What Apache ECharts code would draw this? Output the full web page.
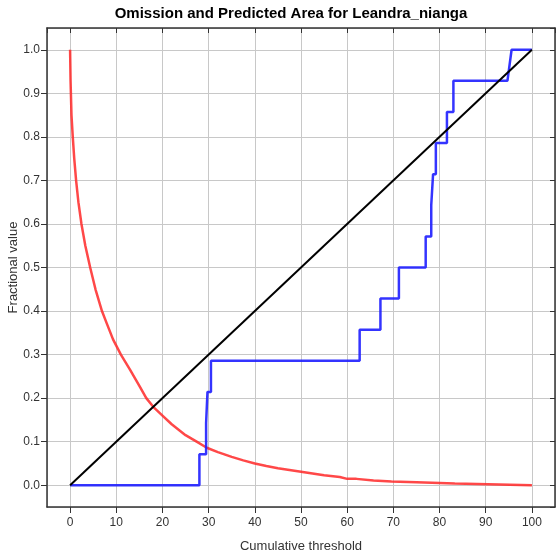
<!DOCTYPE html>
<html>
<head>
<meta charset="utf-8">
<script src="https://cdn.jsdelivr.net/npm/echarts@6/dist/echarts.min.js"></script>
<style>
html,body{margin:0;padding:0;background:#fff;}
#chart{width:556px;height:558px;}
</style>
</head>
<body>
<div id="chart"></div>
<script>
var titleText = "Omission and Predicted Area for Leandra_nianga";
var xAxisName = "Cumulative threshold";
var yAxisName = "Fractional value";

// Fraction of predicted area (red)
var areaX = [0, 0.1, 0.15, 0.3, 0.58, 0.9, 1.3, 1.8, 2.46, 3.3, 4.35, 5.5, 6.9, 8.0, 9.3, 11.0, 13.0, 15.0, 16.5, 18.0, 20.0, 22.0, 25.0, 27.4, 29.6, 32.0, 35.0, 37.5, 40.0, 42.5, 45.0, 50.0, 55.0, 58.4, 60.0, 62.0, 62.1, 65.7, 65.8, 69.6, 69.7, 75.0, 75.1, 83.3, 83.4, 100];
var areaY = [1.0, 0.93, 0.91, 0.85, 0.8, 0.75, 0.7, 0.65, 0.6, 0.55, 0.5, 0.45, 0.4, 0.37, 0.335, 0.3, 0.265, 0.228, 0.2, 0.18, 0.16, 0.14, 0.115, 0.1, 0.086, 0.076, 0.065, 0.057, 0.05, 0.044, 0.039, 0.031, 0.023, 0.019, 0.0146, 0.0146, 0.0108, 0.0108, 0.0085, 0.0085, 0.0069, 0.0069, 0.0038, 0.0038, 0.0, 0.0];

// Omission on training samples (blue)
var omitX = [0, 28.0, 28.0, 29.45, 29.45, 29.75, 29.75, 30.5, 30.5, 62.7, 62.7, 67.2, 67.2, 71.2, 71.2, 77.0, 77.0, 78.2, 78.2, 78.6, 78.6, 79.2, 79.2, 81.6, 81.6, 83.0, 83.0, 94.7, 95.6, 100];
var omitY = [0, 0, 0.0714, 0.0714, 0.1429, 0.1429, 0.2143, 0.2143, 0.2857, 0.2857, 0.3571, 0.3571, 0.4286, 0.4286, 0.5, 0.5, 0.5714, 0.5714, 0.6429, 0.6429, 0.7143, 0.7143, 0.7857, 0.7857, 0.8571, 0.8571, 0.9286, 0.9286, 1.0, 1.0];

// Predicted omission (black)
var predX = [0, 100];
var predY = [0, 1];

function pairs(xs, ys){ return xs.map(function(x,i){ return [x, ys[i]]; }); }

var chart = echarts.init(document.getElementById('chart'), null, {renderer:'canvas'});
var font = "'Liberation Sans', Arial, sans-serif";
var axisLineStyle = {color:'#333', width:1.5};
var option = {
  animation:false,
  backgroundColor:'#fff',
  title:{text:titleText, left:286, top:1, textAlign:'center',
    textStyle:{fontFamily:font, fontSize:15, fontWeight:'bold', color:'#000'}},
  grid:{left:47, right:1, top:28, bottom:51, containLabel:false, outerBoundsMode:'none'},
  xAxis:[{
    type:'value', min:-5, max:105, splitNumber:11,
    name:xAxisName, nameLocation:'middle', nameGap:33, nameMoveOverlap:false,
    nameTextStyle:{fontFamily:font, fontSize:13, color:'#333'},
    axisLine:{show:true, onZero:false, lineStyle:axisLineStyle},
    axisTick:{show:true, length:6, lineStyle:{color:'#333'}},
    axisLabel:{showMinLabel:false, showMaxLabel:false, fontFamily:font, fontSize:12, color:'#333', margin:10},
    splitLine:{show:true, lineStyle:{color:'#c8c8c8', width:1}}
  },{
    type:'value', min:-5, max:105, splitNumber:11, position:'top',
    axisLine:{show:true, onZero:false, lineStyle:axisLineStyle},
    axisTick:{show:true, inside:true, length:5, lineStyle:{color:'#333'}},
    axisLabel:{show:false}, splitLine:{show:false}
  }],
  yAxis:[{
    type:'value', min:-0.05, max:1.05, splitNumber:11,
    name:yAxisName, nameLocation:'middle', nameGap:27, nameMoveOverlap:false,
    nameTextStyle:{fontFamily:font, fontSize:13, color:'#333'},
    axisLine:{show:true, onZero:false, lineStyle:axisLineStyle},
    axisTick:{show:true, length:6, lineStyle:{color:'#333'}},
    axisLabel:{showMinLabel:false, showMaxLabel:false, fontFamily:font, fontSize:12, color:'#333', margin:7,
      formatter:function(v){ return v.toFixed(1); }},
    splitLine:{show:true, lineStyle:{color:'#c8c8c8', width:1}}
  },{
    type:'value', min:-0.05, max:1.05, splitNumber:11, position:'right',
    axisLine:{show:true, onZero:false, lineStyle:axisLineStyle},
    axisTick:{show:true, inside:true, length:5, lineStyle:{color:'#333'}},
    axisLabel:{show:false}, splitLine:{show:false}
  }],
  series:[
    {type:'line', data:pairs(areaX, areaY), showSymbol:false, symbol:'none',
      lineStyle:{color:'rgba(255,40,40,0.85)', width:2.5}, z:2},
    {type:'line', data:pairs(omitX, omitY), showSymbol:false, symbol:'none',
      lineStyle:{color:'rgba(30,30,255,0.9)', width:2.5}, z:3},
    {type:'line', data:pairs(predX, predY), showSymbol:false, symbol:'none',
      lineStyle:{color:'#000', width:2}, z:4}
  ]
};
chart.setOption(option);
</script>
</body>
</html>
